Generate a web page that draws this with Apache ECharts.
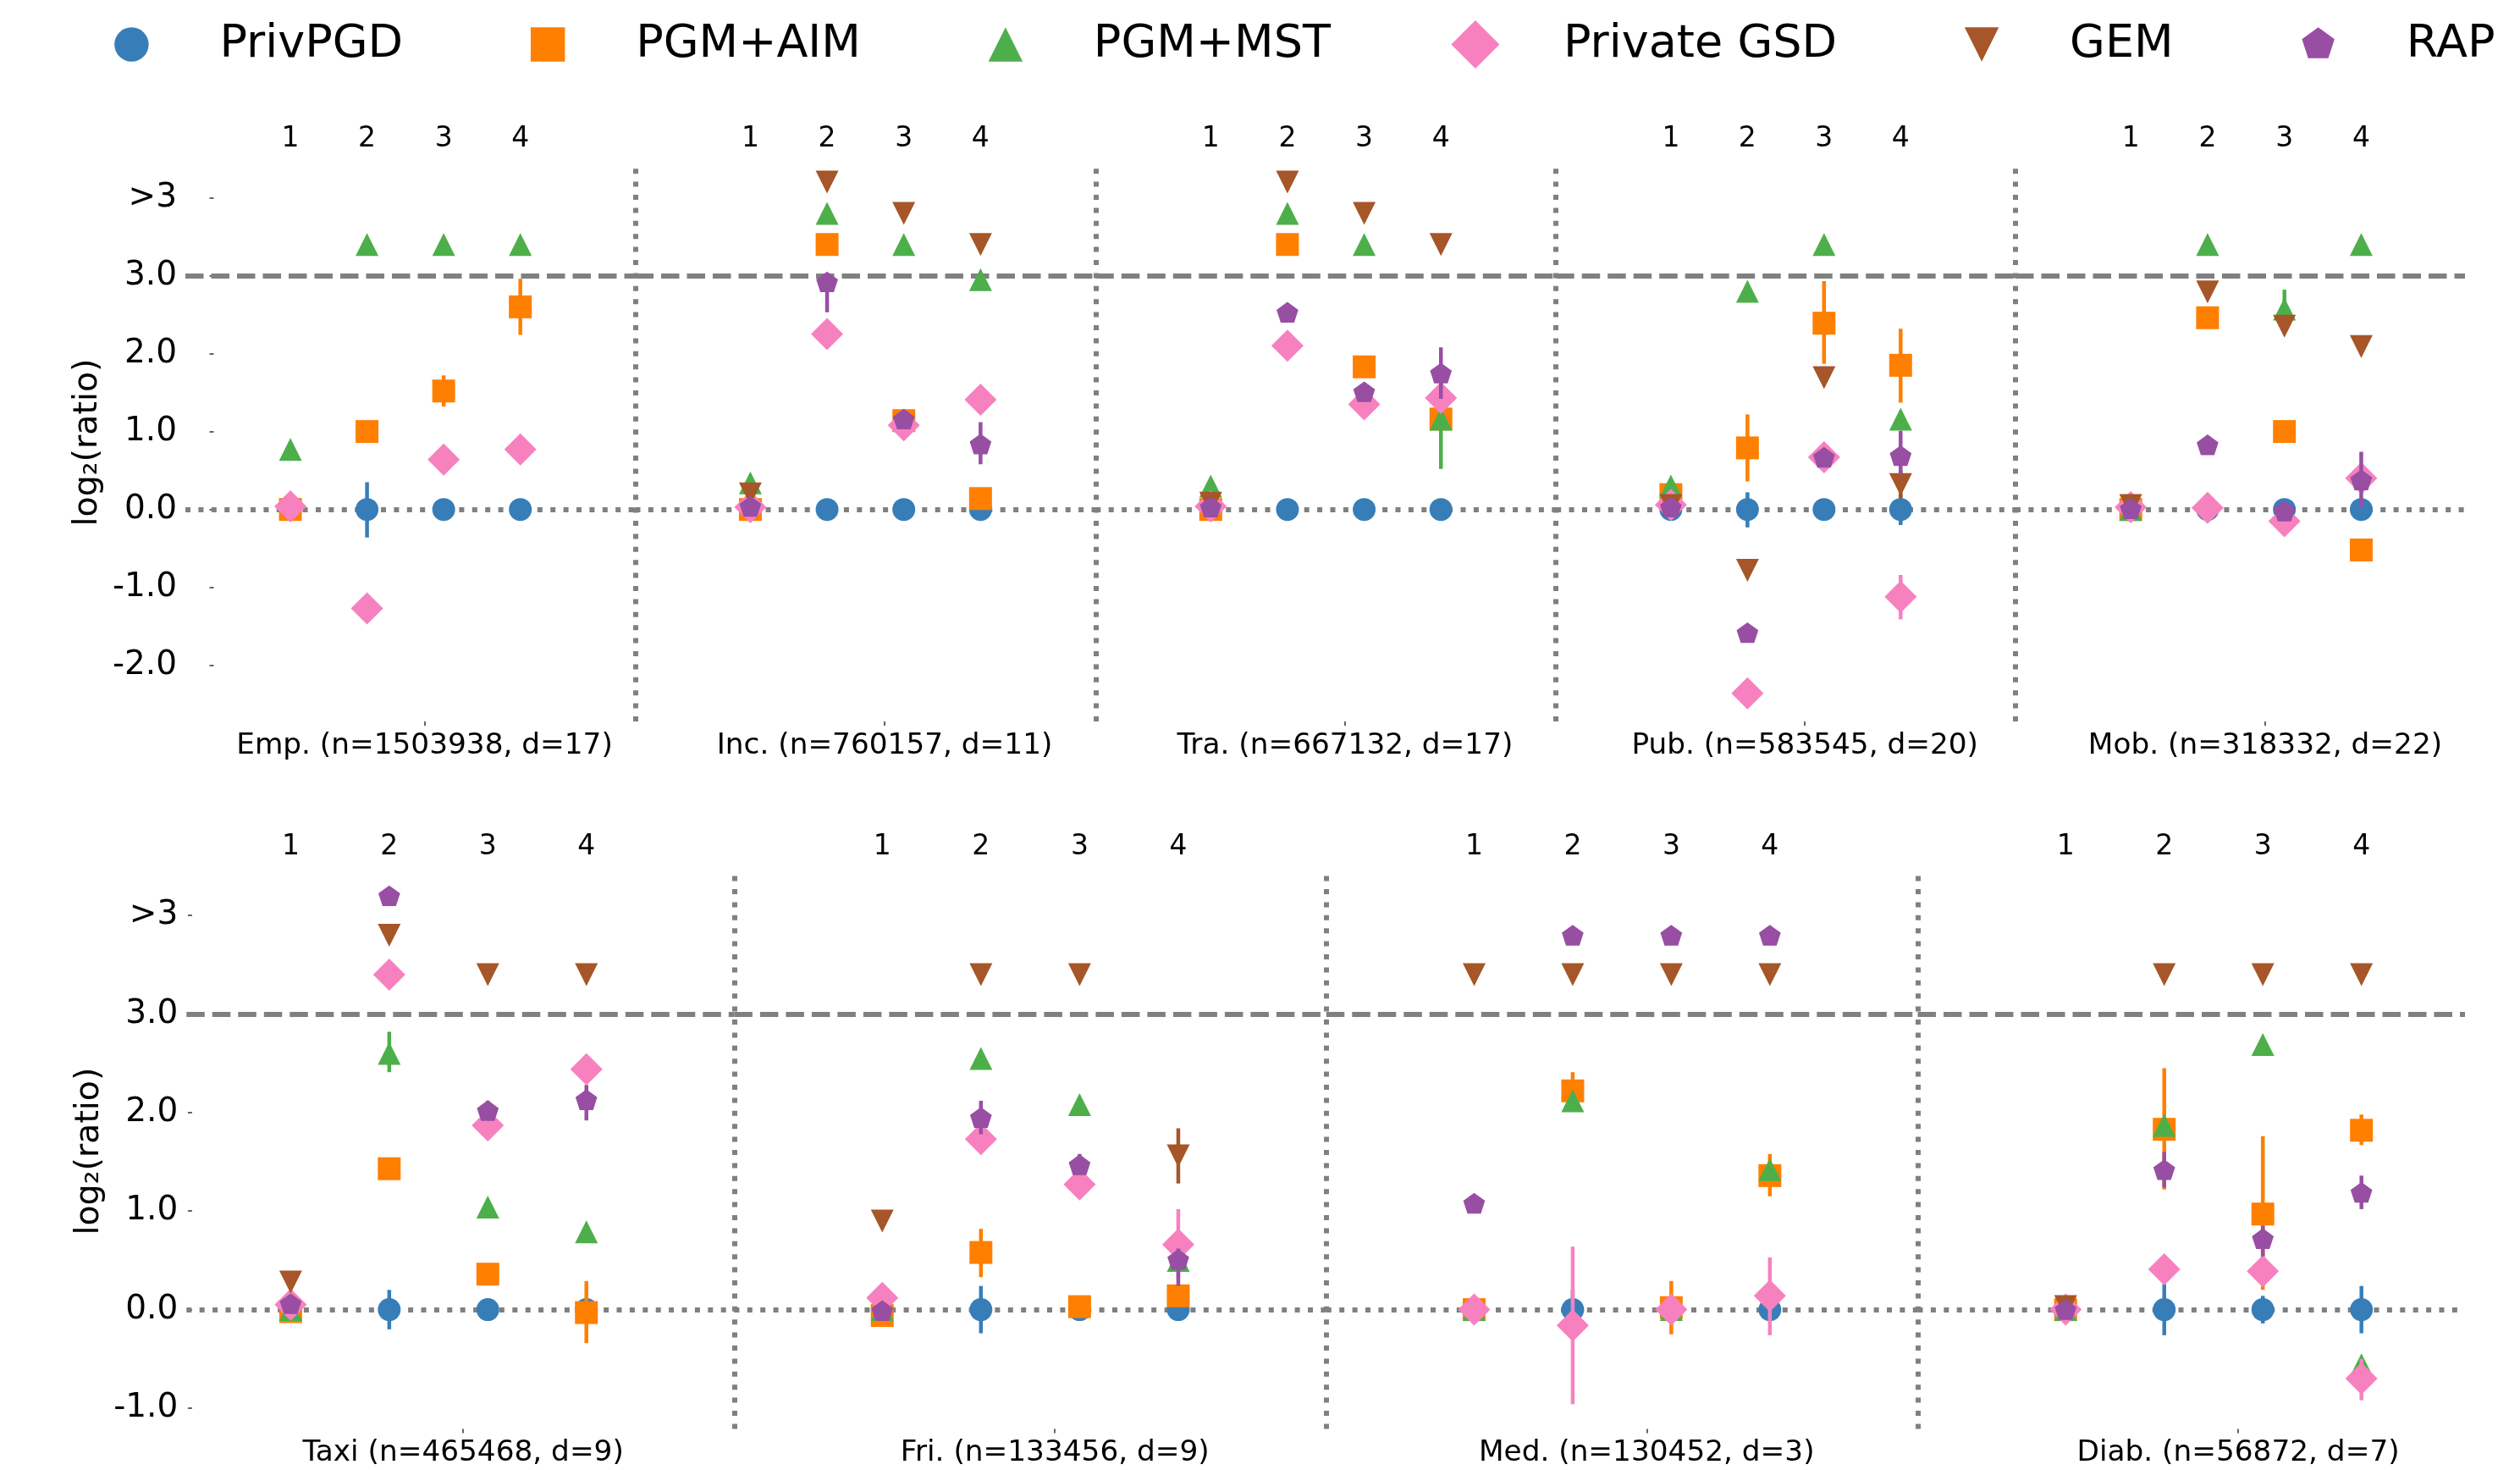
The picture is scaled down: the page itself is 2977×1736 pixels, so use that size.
<!DOCTYPE html>
<html><head><meta charset="utf-8">
<script src="https://cdn.jsdelivr.net/npm/echarts@6/dist/echarts.min.js"></script>
<style>html,body{margin:0;padding:0;background:#fff}#c{width:2977px;height:1736px}</style>
</head><body><div id="c"></div>
<script>
// ---------------- data ----------------
const methods = ['PrivPGD', 'PGM+AIM', 'PGM+MST', 'Private GSD', 'GEM', 'RAP'];
const panelNames = [
  'Emp. (n=1503938, d=17)', 'Inc. (n=760157, d=11)', 'Tra. (n=667132, d=17)',
  'Pub. (n=583545, d=20)', 'Mob. (n=318332, d=22)',
  'Taxi (n=465468, d=9)', 'Fri. (n=133456, d=9)', 'Med. (n=130452, d=3)', 'Diab. (n=56872, d=7)'
];
const categories = [1, 2, 3, 4];
const yTicksTop = [-2, -1, 0, 1, 2, 3, 4];
const yTicksBottom = [-1, 0, 1, 2, 3, 4];
const overflowTick = 4;          // plotted as ">3"
const panelLabelPos = 2.75;

// values per panel (rows) and category 1..4 (columns); null = absent
const privpgd = [
  [0, 0, 0, 0], [0, 0, 0, 0], [0, 0, 0, 0], [0, 0, 0, 0], [0, 0, 0, 0],
  [0, 0, 0, 0], [0, 0, 0, 0], [0, 0, 0, 0], [0, 0, 0, 0]
];
const privpgdErr = [
  [null, [-0.36, 0.35], null, null],
  [null, null, null, null],
  [null, null, null, null],
  [null, [-0.23, 0.22], null, [-0.2, 0.2]],
  [null, null, null, null],
  [null, [-0.2, 0.2], null, null],
  [null, [-0.24, 0.24], null, null],
  [null, [-0.2, 0.2], null, null],
  [null, [-0.26, 0.26], [-0.14, 0.14], [-0.24, 0.24]]
];
const pgmAim = [
  [0, 1.0, 1.52, 2.6],
  [0, 3.4, 1.14, 0.14],
  [0, 3.4, 1.83, 1.16],
  [0.19, 0.79, 2.39, 1.85],
  [0, 2.46, 1.0, -0.52],
  [-0.02, 1.43, 0.36, -0.03],
  [-0.06, 0.58, 0.03, 0.14],
  [0, 2.22, 0.02, 1.36],
  [0, 1.83, 0.97, 1.82]
];
const pgmAimErr = [
  [null, null, [1.32, 1.72], [2.24, 2.96]],
  [null, null, null, null],
  [null, null, null, null],
  [null, [0.36, 1.22], [1.87, 2.93], [1.37, 2.32]],
  [null, null, null, null],
  [null, null, null, [-0.34, 0.29]],
  [null, [0.33, 0.82], null, null],
  [null, [2.03, 2.41], [-0.25, 0.29], [1.15, 1.58]],
  [null, [1.22, 2.45], [0.2, 1.76], [1.67, 1.98]]
];
const pgmMst = [
  [0.77, 3.4, 3.4, 3.4],
  [0.34, 3.8, 3.4, 2.95],
  [0.3, 3.8, 3.4, 1.16],
  [0.3, 2.8, 3.4, 1.16],
  [0, 3.4, 2.57, 3.4],
  [0, 2.6, 1.04, 0.79],
  [0, 2.55, 2.08, 0.5],
  [0, 2.12, 0, 1.42],
  [0, 1.87, 2.69, -0.56]
];
const pgmMstErr = [
  [null, null, null, null],
  [null, null, null, null],
  [null, null, null, [0.52, 1.8]],
  [null, null, null, null],
  [null, null, [2.32, 2.82], null],
  [null, [2.41, 2.82], null, null],
  [null, null, null, null],
  [null, null, null, null],
  [null, null, null, null]
];
const privateGsd = [
  [0.04, -1.27, 0.64, 0.77],
  [0.03, 2.25, 1.08, 1.41],
  [0.04, 2.1, 1.35, 1.43],
  [0.06, -2.36, 0.67, -1.12],
  [0.03, 0.02, -0.15, 0.4],
  [0.05, 3.4, 1.87, 2.44],
  [0.12, 1.73, 1.27, 0.66],
  [0, -0.16, 0, 0.14],
  [0, 0.41, 0.39, -0.7]
];
const privateGsdErr = [
  [null, null, null, null],
  [null, null, null, null],
  [null, null, null, null],
  [null, null, null, [-1.41, -0.84]],
  [null, null, null, null],
  [null, null, null, null],
  [null, null, null, [0.32, 1.02]],
  [null, [-0.96, 0.64], null, [-0.26, 0.53]],
  [null, null, null, [-0.92, -0.5]]
];
const gem = [
  [null, null, null, null],
  [0.2, 4.2, 3.8, 3.4],
  [0.08, 4.2, 3.8, 3.4],
  [0.05, -0.78, 1.69, 0.32],
  [0.05, 2.79, 2.35, 2.09],
  [0.28, 3.8, 3.4, 3.4],
  [0.9, 3.4, 3.4, 1.56],
  [3.4, 3.4, 3.4, 3.4],
  [0.03, 3.4, 3.4, 3.4]
];
const gemErr = [
  [null, null, null, null],
  [null, null, null, null],
  [null, null, null, null],
  [null, null, null, [0.14, 0.5]],
  [null, null, null, [1.99, 2.19]],
  [null, null, null, null],
  [null, null, null, [1.28, 1.84]],
  [null, null, null, null],
  [null, null, null, null]
];
const rap = [
  [null, null, null, null],
  [0.04, 2.92, 1.16, 0.84],
  [0.03, 2.53, 1.51, 1.75],
  [0.03, -1.58, 0.67, 0.69],
  [0.01, 0.83, -0.02, 0.38],
  [0.06, 4.2, 2.02, 2.13],
  [-0.01, 1.95, 1.47, 0.51],
  [1.08, 3.8, 3.8, 3.8],
  [0, 1.42, 0.72, 1.19]
];
const rapErr = [
  [null, null, null, null],
  [null, [2.53, 3.0], null, [0.58, 1.12]],
  [null, null, null, [1.42, 2.08]],
  [null, null, null, [0.45, 1.01]],
  [null, null, null, [0.03, 0.74]],
  [null, null, [1.92, 2.12], [1.92, 2.28]],
  [null, [1.78, 2.12], [1.37, 1.58], [0.24, 0.62]],
  [null, null, null, null],
  [null, [1.24, 1.6], [0.54, 0.85], [1.02, 1.36]]
];

// ---------------- styles & layout ----------------
const FONT = 'DejaVu Sans';
const GREY = '#808080';
const triDown = 'path://M0,0 L2,0 L1,2 Z';
const pentagon = 'path://M0,-1 L0.9511,-0.309 L0.5878,0.809 L-0.5878,0.809 L-0.9511,-0.309 Z';
const defs = [
  { vals: privpgd, errs: privpgdErr, color: '#377eb8', symbol: 'circle', size: 27,
    icon: 'path://M-1,-1M1,1M0.71,0A0.71,0.71,0,1,1,-0.71,0A0.71,0.71,0,1,1,0.71,0Z' },
  { vals: pgmAim, errs: pgmAimErr, color: '#ff7f00', symbol: 'rect', size: 27,
    icon: 'path://M-1,-1M1,1M-0.71,-0.71L0.71,-0.71L0.71,0.71L-0.71,0.71Z' },
  { vals: pgmMst, errs: pgmMstErr, color: '#4daf4a', symbol: 'triangle', size: 27,
    icon: 'path://M-1,-1M1,1M0,-0.71L0.71,0.71L-0.71,0.71Z' },
  { vals: privateGsd, errs: privateGsdErr, color: '#f781bf', symbol: 'diamond', size: 38,
    icon: 'path://M0,-1L1,0L0,1L-1,0Z' },
  { vals: gem, errs: gemErr, color: '#a65628', symbol: triDown, size: 27,
    icon: 'path://M-1,-1M1,1M-0.71,-0.71L0.71,-0.71L0,0.71Z' },
  { vals: rap, errs: rapErr, color: '#984ea3', symbol: pentagon, size: [25.7, 24.4],
    icon: 'path://M-1,-1M1,1M0,-0.71L0.675,-0.219L0.417,0.574L-0.417,0.574L-0.675,-0.219Z' }
];

const rows = [
  { top: 193, height: 659, min: -2.72, max: 4.44, ticks: yTicksTop, labelMargin: 12 },
  { top: 1031.7, height: 655.7, min: -1.21, max: 4.425, ticks: yTicksBottom, labelMargin: 15 }
];
const layout = [
  { row: 0, left: 219, width: 531.5, xmin: -0.37, xmax: 5.5, yAxis: true, sep: true },
  { row: 0, left: 750.5, width: 543.8, xmin: -0.5, xmax: 5.5, sep: true },
  { row: 0, left: 1294.3, width: 543.9, xmin: -0.5, xmax: 5.5, sep: true },
  { row: 0, left: 1838.2, width: 542.8, xmin: -0.5, xmax: 5.5, sep: true },
  { row: 0, left: 2381, width: 531, xmin: -0.5, xmax: 5.35, sep: false },
  { row: 1, left: 220.3, width: 647.1, xmin: -0.057, xmax: 5.5, yAxis: true, sep: true },
  { row: 1, left: 867.4, width: 699.4, xmin: -0.5, xmax: 5.5, sep: true },
  { row: 1, left: 1566.8, width: 698.7, xmin: -0.5, xmax: 5.5, sep: true },
  { row: 1, left: 2265.5, width: 646.5, xmin: -0.5, xmax: 5.05, sep: false }
];

const grids = [], xAxes = [], yAxes = [], series = [];
const tickStyle = { color: '#333', width: 1.5 };

layout.forEach((L, p) => {
  const R = rows[L.row];
  grids.push({ left: L.left, top: R.top, width: L.width, height: R.height,
               containLabel: false, outerBoundsMode: 'none' });
  xAxes.push({
    gridIndex: p, type: 'value', position: 'top', min: L.xmin, max: L.xmax,
    axisLine: { show: false }, splitLine: { show: false },
    axisTick: { show: true, customValues: categories, length: 5, lineStyle: tickStyle },
    axisLabel: { show: true, customValues: categories, fontSize: 33, color: '#000',
                 fontFamily: FONT, margin: R.labelMargin, formatter: v => String(v) }
  });
  xAxes.push({
    gridIndex: p, type: 'value', position: 'bottom', min: L.xmin, max: L.xmax,
    axisLine: { show: false }, splitLine: { show: false },
    axisTick: { show: true, customValues: [panelLabelPos], length: 5, lineStyle: tickStyle },
    axisLabel: { show: true, customValues: [panelLabelPos], fontSize: 34.3, color: '#000',
                 fontFamily: FONT, margin: 12, formatter: () => panelNames[p] }
  });
  const y = {
    gridIndex: p, type: 'value', min: R.min, max: R.max,
    axisLine: { show: false }, splitLine: { show: false },
    axisTick: { show: !!L.yAxis, customValues: R.ticks, length: 5, lineStyle: tickStyle },
    axisLabel: { show: !!L.yAxis, customValues: R.ticks, fontSize: 39, color: '#000',
                 fontFamily: FONT, margin: 10,
                 formatter: v => (v === overflowTick ? '>3' : v.toFixed(1)) }
  };
  if (L.yAxis) {
    y.name = 'log\u2082(ratio)';
    y.nameLocation = 'middle';
    y.nameRotate = 90;
    y.nameGap = 95;
    y.nameTextStyle = { fontSize: 39.5, color: '#000', fontFamily: FONT };
  }
  yAxes.push(y);

  // reference lines
  const ml = [
    { yAxis: 3, lineStyle: { color: GREY, width: 6, type: [21.5, 9] } },
    { yAxis: 0, lineStyle: { color: GREY, width: 6, type: [6, 9.4] } }
  ];
  if (L.sep) ml.push({ xAxis: L.xmax, lineStyle: { color: GREY, width: 6, type: [6, 9.4] } });
  series.push({
    type: 'scatter', name: '_ref' + p, xAxisIndex: 2 * p, yAxisIndex: p, data: [],
    z: 1, silent: true, clip: false,
    markLine: { silent: true, symbol: ['none', 'none'], label: { show: false },
                animation: false, data: ml }
  });

  defs.forEach((d, i) => {
    const pts = [], eb = [];
    d.vals[p].forEach((v, k) => {
      if (v != null) pts.push([categories[k], v]);
      const e = d.errs[p][k];
      if (e) eb.push([categories[k], e[0], e[1]]);
    });
    if (eb.length) {
      series.push({
        type: 'custom', name: methods[i] + ' err', xAxisIndex: 2 * p, yAxisIndex: p,
        z: 10 + 2 * i, silent: true, data: eb, clip: false,
        renderItem: (params, api) => {
          const xv = api.value(0);
          const a = api.coord([xv, api.value(1)]);
          const b = api.coord([xv, api.value(2)]);
          return { type: 'line', shape: { x1: a[0], y1: a[1], x2: b[0], y2: b[1] },
                   style: { stroke: d.color, lineWidth: 4.5 } };
        }
      });
    }
    series.push({
      type: 'scatter', name: methods[i], xAxisIndex: 2 * p, yAxisIndex: p,
      z: 11 + 2 * i, silent: true, data: pts, symbol: d.symbol, symbolSize: d.size,
      itemStyle: { color: d.color, opacity: 1 }, emphasis: { disabled: true }
    });
  });
});

const option = {
  animation: false,
  backgroundColor: '#fff',
  textStyle: { fontFamily: FONT },
  legend: {
    top: 24, left: 126.9, padding: 0, orient: 'horizontal',
    itemWidth: 57, itemHeight: 57, itemGap: 142.5, selectedMode: false,
    formatter: n => '{g|}{t|' + n + '}',
    textStyle: {
      color: '#000', fontFamily: FONT, fontSize: 54,
      rich: { g: { width: 70.5 }, t: { fontSize: 54, fontFamily: FONT, color: '#000' } }
    },
    data: methods.map((m, i) => ({ name: m, icon: defs[i].icon }))
  },
  grid: grids, xAxis: xAxes, yAxis: yAxes, series: series
};

const chart = echarts.init(document.getElementById('c'), null, { renderer: 'canvas' });
chart.setOption(option);
</script>
</body></html>
